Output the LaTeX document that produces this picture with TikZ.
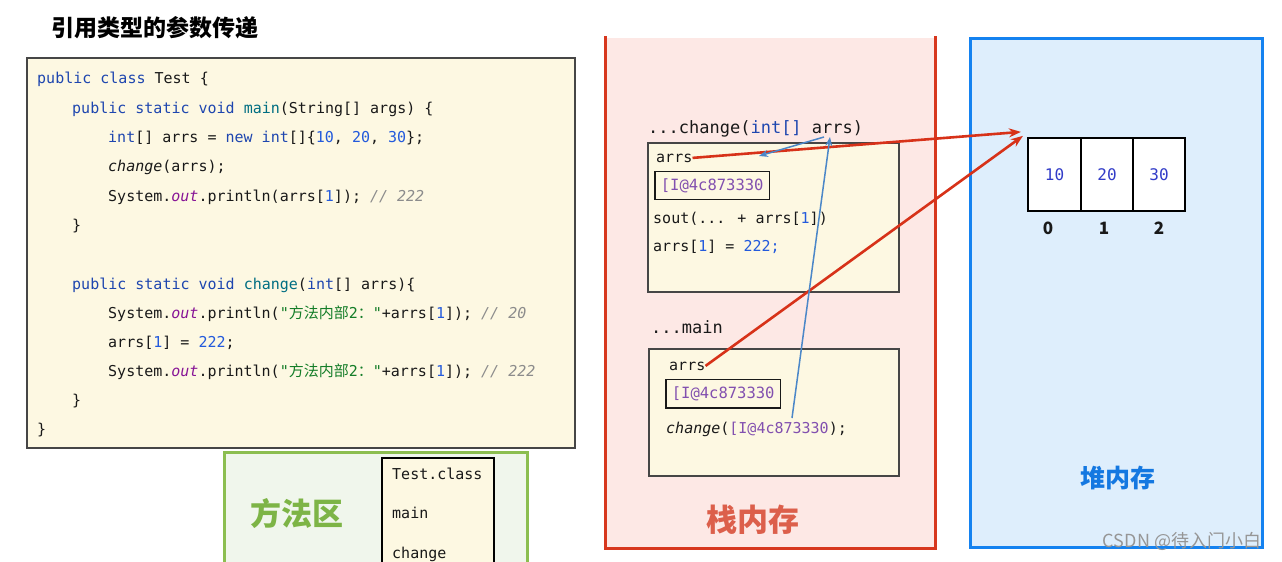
\documentclass[tikz,border=0pt]{standalone}
\usepackage{fontspec}
\usetikzlibrary{arrows.meta,calc}
\newfontfamily\cjk{Noto Sans CJK SC}
\newfontfamily\mono{DejaVu Sans Mono}
\definecolor{ckwc}{RGB}{30,70,175}
\definecolor{cfnc}{RGB}{0,110,130}
\definecolor{cnumc}{RGB}{35,90,220}
\definecolor{coutc}{RGB}{135,20,150}
\definecolor{ccomc}{RGB}{140,140,140}
\definecolor{cstrc}{RGB}{20,125,40}
\definecolor{ink}{RGB}{25,25,25}
\definecolor{refc}{RGB}{130,80,175}
\definecolor{yel}{RGB}{253,248,226}
\definecolor{stackfill}{RGB}{253,232,229}
\definecolor{stackred}{RGB}{215,55,30}
\definecolor{stacktxt}{RGB}{220,95,75}
\definecolor{heapfill}{RGB}{222,238,252}
\definecolor{heapblue}{RGB}{20,130,240}
\definecolor{heaptxt}{RGB}{20,120,225}
\definecolor{mafill}{RGB}{240,246,236}
\definecolor{maborder}{RGB}{140,190,80}
\definecolor{matxt}{RGB}{125,180,70}
\definecolor{arrnum}{RGB}{50,60,200}
\definecolor{arrowred}{RGB}{215,50,25}
\definecolor{arrowblue}{RGB}{75,135,200}
\definecolor{framegray}{RGB}{70,70,70}
\newcommand\ckw[1]{\textcolor{ckwc}{#1}}
\newcommand\cfn[1]{\textcolor{cfnc}{#1}}
\newcommand\cnum[1]{\textcolor{cnumc}{#1}}
\newcommand\cout[1]{\textcolor{coutc}{\itshape #1}}
\newcommand\ccom[1]{\textcolor{ccomc}{\itshape #1}}
\newcommand\cstr[1]{\textcolor{cstrc}{#1}}
\newcommand\cref[1]{\textcolor{refc}{#1}}
\tikzset{
  codeln/.style={anchor=base west, inner sep=0pt, text=ink, font=\mono\fontsize{15pt}{18pt}\selectfont},
  hdrln/.style={anchor=base west, inner sep=0pt, text=ink, font=\mono\fontsize{17pt}{20pt}\selectfont},
  frame/.style={draw=framegray, line width=1.3pt, fill=yel, inner sep=0pt},
  refbox/.style={draw=ink, line width=1.8pt, fill=yel, anchor=west, inner xsep=6pt, inner ysep=7pt, text=refc, font=\mono\fontsize{15.5pt}{18pt}\selectfont},
  cell/.style={draw=black, line width=2.2pt, fill=white, minimum height=73pt, text=arrnum, font=\mono\fontsize{16pt}{18pt}\selectfont},
  idx/.style={inner sep=0pt, font=\cjk\bfseries\fontsize{17pt}{19pt}\selectfont, text=ink},
  bigcjk/.style={inner sep=0pt, font=\cjk\bfseries\fontsize{31pt}{34pt}\selectfont},
  redarr/.style={draw=arrowred, line width=2.6pt, -{Stealth[length=12pt,width=9pt]}},
  bluearr/.style={draw=arrowblue, line width=1.5pt, -{Stealth[length=9pt,width=7pt]}}
}
\begin{document}
\begin{tikzpicture}[x=1pt,y=-1pt]
\clip (0,0) rectangle (1282,562);
\fill[white] (0,0) rectangle (1282,562);

% title
\node[inner sep=0pt, font=\cjk\bfseries\fontsize{23pt}{26pt}\selectfont, text=black] (title) at (155,28) {引用类型的参数传递};

% code box
\node[draw=framegray, line width=1.5pt, fill=yel, minimum width=548pt, minimum height=390pt, inner sep=0pt] (code) at (301,253) {};
\node[codeln] (c1) at (37,83) {\ckw{public} \ckw{class} Test \{};
\node[codeln] (c2) at (72,113) {\ckw{public} \ckw{static} \ckw{void} \cfn{main}(String[] args) \{};
\node[codeln] (c3) at (108,142) {\ckw{int}[] arrs = \ckw{new} \ckw{int}[]\{\cnum{10}, \cnum{20}, \cnum{30}\};};
\node[codeln] (c4) at (108,171) {\textit{change}(arrs);};
\node[codeln] (c5) at (108,201) {System.\cout{out}.println(arrs[\cnum{1}]); \ccom{// 222}};
\node[codeln] (c6) at (72,230) {\}};
\node[codeln] (c7) at (72,289) {\ckw{public} \ckw{static} \ckw{void} \cfn{change}(\ckw{int}[] arrs)\{};
\node[codeln] (c8) at (108,318) {System.\cout{out}.println(\cstr{"{\cjk 方法内部}2{\cjk ：}"}+arrs[\cnum{1}]); \ccom{// 20}};
\node[codeln] (c9) at (108,347) {arrs[\cnum{1}] = \cnum{222};};
\node[codeln] (c10) at (108,376) {System.\cout{out}.println(\cstr{"{\cjk 方法内部}2{\cjk ：}"}+arrs[\cnum{1}]); \ccom{// 222}};
\node[codeln] (c11) at (72,405) {\}};
\node[codeln] (c12) at (37,434) {\}};

% method area
\node[draw=maborder, line width=3pt, fill=mafill, minimum width=303pt, minimum height=130pt, inner sep=0pt] (ma) at (375.5,517) {};
\node[bigcjk, text=matxt] (maLabel) at (297,514) {方法区};
\node[draw=black, line width=1.3pt, fill=yel, minimum width=112pt, minimum height=120pt, inner sep=0pt] (maBox) at (438,518) {};
\node[codeln] (maT) at (392,479) {Test.class};
\node[codeln] (maM) at (392,518) {main};
\node[codeln] (maC) at (392,558) {change};

% stack
\fill[stackfill] (605,38) rectangle (935,548);
\draw[stackred, line width=3pt] (605,36) -- (605,548) -- (935,548) -- (935,36);
\node[bigcjk, text=stacktxt] (stackLabel) at (753,520) {栈内存};

\node[hdrln] (hdrC) at (648,133) {...change(\ckw{int[]} arrs)};
\node[frame, minimum width=251pt, minimum height=149pt] (chgF) at (773.5,217.5) {};
\node[codeln] (arrsC) at (656,162) {arrs};
\node[refbox] (refC) at (654,185.5) {[I@4c873330};
\node[codeln] (soutC) at (653,223) {sout(... + arrs[\cnum{1}])};
\node[codeln] (setC) at (653,251) {arrs[\cnum{1}] = \cnum{222;}};

\node[hdrln] (hdrM) at (651,333) {...main};
\node[frame, minimum width=250pt, minimum height=127pt] (mainF) at (774,412.5) {};
\node[codeln] (arrsM) at (669,370) {arrs};
\node[refbox] (refM) at (665,393.5) {[I@4c873330};
\node[codeln] (callM) at (666,433) {\textit{change}(\cref{[I@4c873330});};

% heap
\node[draw=heapblue, line width=3pt, fill=heapfill, minimum width=292pt, minimum height=509pt, inner sep=0pt] (heap) at (1116,292.5) {};
\node[inner sep=0pt, font=\cjk\bfseries\fontsize{25pt}{28pt}\selectfont, text=heaptxt] (heapLabel) at (1118,478) {堆内存};
\node[cell, minimum width=53pt] (cell0) at (1054.5,174.5) {10};
\node[cell, minimum width=52pt] (cell1) at (1107,174.5) {20};
\node[cell, minimum width=52pt] (cell2) at (1159,174.5) {30};
\node[idx] (i0) at (1048,228) {0};
\node[idx] (i1) at (1104,228) {1};
\node[idx] (i2) at (1159,228) {2};

% connector end points
\coordinate (tgt1) at ($(cell0.north west)+(-6,-5)$);
\coordinate (tgt2) at ($(cell0.north west)+(-4,-1)$);
\coordinate (hdrArrs) at (830,137);
\coordinate (hdrArrs2) at (824,137);
\coordinate (chgArrsPt) at (759,156);
\coordinate (callPt) at (792,418);

% connectors
\draw[redarr] (arrsC.east) -- (tgt1);
\draw[redarr] (arrsM.east) -- (tgt2);
\draw[bluearr] (callPt) -- (hdrArrs);
\draw[bluearr] (hdrArrs2) -- (chgArrsPt);

% watermark
\node[inner sep=0pt, text={rgb,255:red,150;green,150;blue,150}, font=\cjk\fontsize{18pt}{20pt}\selectfont] (wm) at (1182,541) {CSDN @待入门小白};
\end{tikzpicture}
\end{document}
